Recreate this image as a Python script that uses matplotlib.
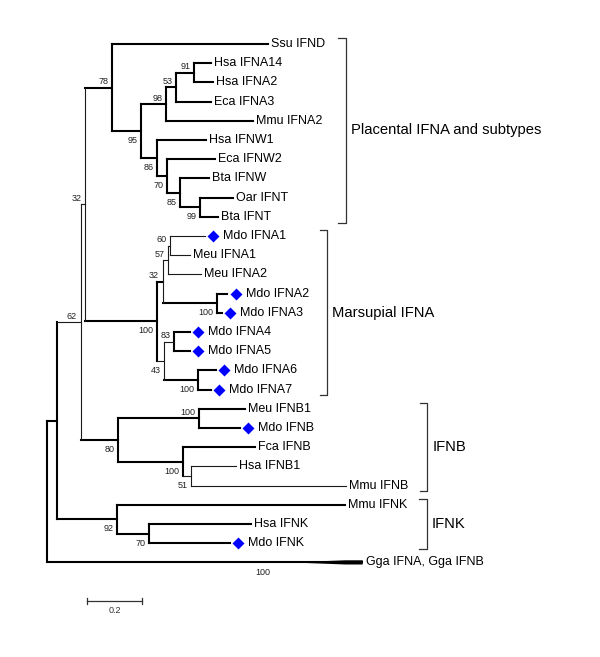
import numpy as np
import matplotlib.pyplot as plt
from matplotlib.collections import LineCollection

# ---- tree data (branch lengths in substitutions/site) ----
leaf_names = ["Ssu IFND", "Hsa IFNA14", "Hsa IFNA2", "Eca IFNA3", "Mmu IFNA2",
              "Hsa IFNW1", "Eca IFNW2", "Bta IFNW", "Oar IFNT", "Bta IFNT",
              "Mdo IFNA1", "Meu IFNA1", "Meu IFNA2", "Mdo IFNA2", "Mdo IFNA3",
              "Mdo IFNA4", "Mdo IFNA5", "Mdo IFNA6", "Mdo IFNA7",
              "Meu IFNB1", "Mdo IFNB", "Fca IFNB", "Hsa IFNB1", "Mmu IFNB",
              "Mmu IFNK", "Hsa IFNK", "Mdo IFNK", "Gga IFNA, Gga IFNB"]

node_id = ["root", "A", "Gga IFNA, Gga IFNB", "n62", "n92", "n32", "n80",
           "n78", "n100m", "Ssu IFND", "n95", "n98", "n53", "n91",
           "Hsa IFNA14", "Hsa IFNA2", "Eca IFNA3", "Mmu IFNA2", "n86",
           "Hsa IFNW1", "n70", "Eca IFNW2", "n85", "Bta IFNW", "n99",
           "Oar IFNT", "Bta IFNT",
           "n32b", "n43", "n57", "n60", "Mdo IFNA1", "Meu IFNA1", "Meu IFNA2",
           "n100c", "Mdo IFNA2", "Mdo IFNA3", "n83", "Mdo IFNA4", "Mdo IFNA5",
           "n100d", "Mdo IFNA6", "Mdo IFNA7",
           "n100b", "Meu IFNB1", "Mdo IFNB", "n100e", "Fca IFNB", "n51",
           "Hsa IFNB1", "Mmu IFNB",
           "Mmu IFNK", "n70k", "Hsa IFNK", "Mdo IFNK"]

node_parent = [None, "root", "root", "A", "A", "n62", "n62",
               "n32", "n32", "n78", "n78", "n95", "n98", "n53",
               "n91", "n91", "n53", "n98", "n95",
               "n86", "n86", "n70", "n70", "n85", "n85",
               "n99", "n99",
               "n100m", "n100m", "n32b", "n57", "n60", "n60", "n57",
               "n32b", "n100c", "n100c", "n43", "n83", "n83",
               "n43", "n100d", "n100d",
               "n80", "n100b", "n100b", "n80", "n100e", "n100e",
               "n51", "n51",
               "n92", "n92", "n70k", "n70k"]

node_blen = [0.0, 0.034, 1.147, 0.087, 0.220, 0.015, 0.137,
             0.099, 0.264, 0.567, 0.105, 0.091, 0.036, 0.065,
             0.065, 0.069, 0.127, 0.316, 0.059,
             0.177, 0.038, 0.172, 0.046, 0.104, 0.072,
             0.120, 0.065,
             0.019, 0.025, 0.020, 0.009, 0.125, 0.070, 0.119,
             0.199, 0.036, 0.016, 0.036, 0.057, 0.057,
             0.123, 0.064, 0.046,
             0.293, 0.167, 0.149, 0.236, 0.261, 0.028,
             0.166, 0.566,
             0.828, 0.116, 0.372, 0.293]

boot_node = ["n62", "n92", "n32", "n80", "n78", "n100m", "n95", "n98", "n53",
             "n91", "n86", "n70", "n85", "n99", "n32b", "n43", "n57", "n60",
             "n100c", "n83", "n100d", "n100b", "n100e", "n51", "n70k"]
boot_value = [62, 92, 32, 80, 78, 100, 95, 98, 53,
              91, 86, 70, 85, 99, 32, 43, 57, 60,
              100, 83, 100, 100, 100, 51, 70]
gga_boot = 100

marked_leaves = ["Mdo IFNA1", "Mdo IFNA2", "Mdo IFNA3", "Mdo IFNA4", "Mdo IFNA5",
                 "Mdo IFNA6", "Mdo IFNA7", "Mdo IFNB", "Mdo IFNK"]

clade_names = ["Placental IFNA and subtypes", "Marsupial IFNA", "IFNB", "IFNK"]
clade_first = ["Ssu IFND", "Mdo IFNA1", "Meu IFNB1", "Mmu IFNK"]
clade_last = ["Bta IFNT", "Mdo IFNA7", "Mmu IFNB", "Mdo IFNK"]

scale_len = 0.2

# ---- style / layout ----
PX_X = 275.0    # pixels per substitution unit
PX_Y = 19.2     # pixels per leaf row
ROOT_PX = 47.3
TOP_PX = 44.0
FONT = "Liberation Sans"
thin_h = {"n62", "n32", "n57", "n60", "Mdo IFNA1", "Meu IFNA1", "Meu IFNA2",
          "n43", "n83", "n51", "Hsa IFNB1", "Mmu IFNB"}
thin_v = {"n62", "n32", "n32b", "n57", "n60", "n43", "n51"}
boot_below = {"n95", "n86", "n70", "n85", "n99", "n100m", "n43", "n100d",
              "n100c", "n80", "n100e", "n51", "n92", "n70k"}
LW_THICK = 1.5
LW_THIN = 0.8

# ---- layout computation ----
parent = dict(zip(node_id, node_parent))
blen = dict(zip(node_id, node_blen))
children = {n: [] for n in node_id}
for n, p in zip(node_id, node_parent):
    if p is not None:
        children[p].append(n)

xpos = {}
for n in node_id:
    p = parent[n]
    xpos[n] = 0.0 if p is None else xpos[p] + blen[n]

ypos = {name: i for i, name in enumerate(leaf_names)}


def get_y(n):
    if n in ypos:
        return ypos[n]
    ys = [get_y(c) for c in children[n]]
    ypos[n] = (min(ys) + max(ys)) / 2.0
    return ypos[n]


get_y("root")


def px2x(px):
    return (px - ROOT_PX) / PX_X


def px2y(px):
    return (px - TOP_PX) / PX_Y


fig = plt.figure(figsize=(6.0, 6.57), dpi=100)
ax = fig.add_axes([0, 0, 1, 1])
ax.set_xlim(px2x(0), px2x(600))
ax.set_ylim(px2y(657), px2y(0))
ax.axis("off")

segs_thick, segs_thin = [], []
for n in node_id:
    p = parent[n]
    if p is not None and n != leaf_names[-1]:
        seg = [(xpos[p], ypos[n]), (xpos[n], ypos[n])]
        (segs_thin if n in thin_h else segs_thick).append(seg)
    if children[n]:
        ys = [ypos[c] for c in children[n]]
        seg = [(xpos[n], min(ys)), (xpos[n], max(ys))]
        (segs_thin if n in thin_v else segs_thick).append(seg)

ax.add_collection(LineCollection(segs_thick, colors="black", linewidths=LW_THICK,
                                 capstyle="projecting"))
ax.add_collection(LineCollection(segs_thin, colors="#1a1a1a", linewidths=LW_THIN,
                                 capstyle="projecting"))

# collapsed Gga clade: line that widens into a wedge
gga = leaf_names[-1]
gx0, gx1, gy = xpos[parent[gga]], xpos[gga], ypos[gga]
ax.plot([gx0, gx1], [gy, gy], color="black", lw=LW_THICK, solid_capstyle="butt")
wa = gx0 + 0.77 * (gx1 - gx0)
wb = gx0 + 0.945 * (gx1 - gx0)
hh = 2.1 / PX_Y
ax.fill([wa, wb, gx1, gx1, wb], [gy, gy - hh, gy - hh, gy + hh, gy + hh],
        color="black", lw=0)
ax.annotate(str(gga_boot), (gx0 + 0.683 * (gx1 - gx0), gy), xytext=(0, -7.2),
            textcoords="offset points", ha="center", va="center",
            fontsize=6.5, family=FONT, color="#222222")

# leaf labels and markers
for name in leaf_names:
    xe, ye = xpos[name], ypos[name]
    if name in marked_leaves:
        ax.plot(xe + 8.5 / PX_X, ye, "D", ms=6, color="#0000FF", mec="none")
        off = 18.5
    else:
        off = 3.0
    ax.annotate(name, (xe, ye), xytext=(off * 0.72, 0), textcoords="offset points",
                ha="left", va="center", fontsize=9, family=FONT)

# bootstrap values
for n, b in zip(boot_node, boot_value):
    dy = -7.0 if n in boot_below else 4.3
    ax.annotate(str(b), (xpos[n], ypos[n]), xytext=(-2.5, dy),
                textcoords="offset points", ha="right", va="center",
                fontsize=6.5, family=FONT, color="#222222")

# clade brackets
bracket_px = [345.7, 327.3, 427.3, 426.7]
for cname, f, l, bpx in zip(clade_names, clade_first, clade_last, bracket_px):
    y0, y1 = ypos[f] - 0.3, ypos[l] + 0.3
    bx = px2x(bpx)
    tick = 7.5 / PX_X
    ax.plot([bx - tick, bx, bx, bx - tick], [y0, y0, y1, y1], color="#333333",
            lw=0.9)
    ax.text(bx + 5.0 / PX_X, (ypos[f] + ypos[l]) / 2.0, cname, ha="left",
            va="center", fontsize=10.6, family=FONT)

# scale bar
sx0 = px2x(87.3)
sy = px2y(601)
ty = 3.0 / PX_Y
ax.plot([sx0, sx0 + scale_len], [sy, sy], color="#333333", lw=0.9)
for xx in (sx0, sx0 + scale_len):
    ax.plot([xx, xx], [sy - ty, sy + ty], color="#333333", lw=0.9)
ax.annotate(str(scale_len), (sx0 + scale_len / 2, sy), xytext=(0, -6.5),
            textcoords="offset points", ha="center", va="center",
            fontsize=6.5, family=FONT, color="#333333")

fig.savefig("out.png", dpi=100, facecolor="white")
